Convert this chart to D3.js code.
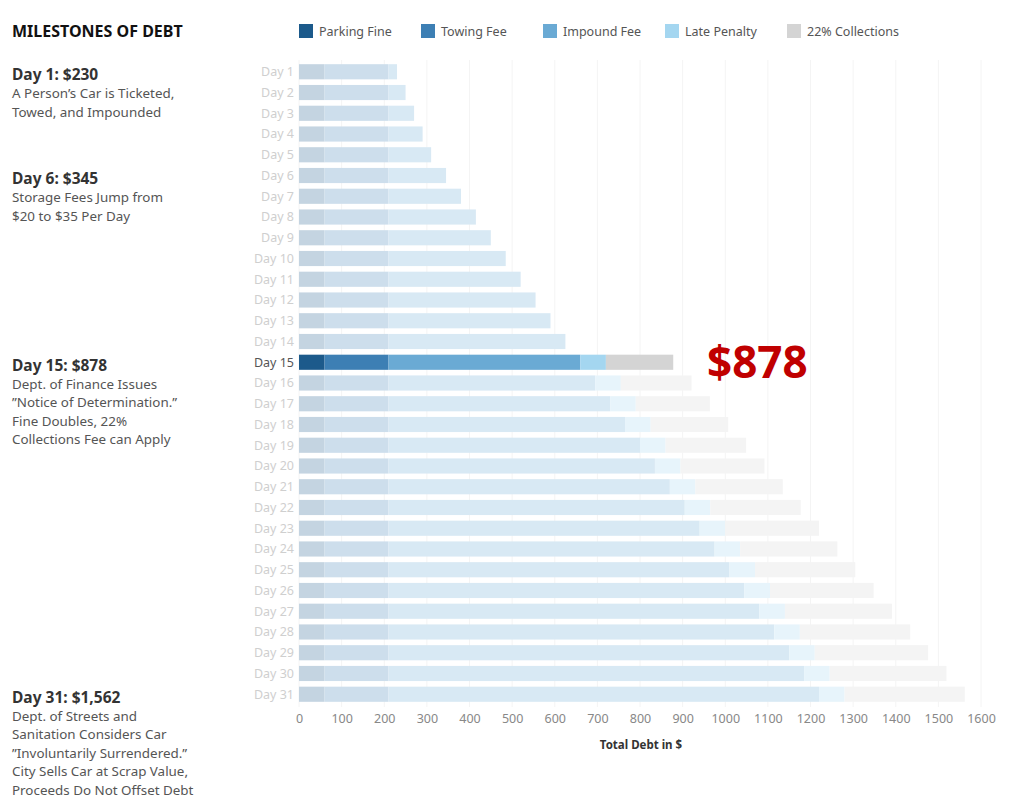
<!DOCTYPE html>
<head>
    <style>
        body { margin: 0; background: #fff; }
        text { font-family: "Noto Sans", sans-serif; }
    </style>
</head>
<body>
    <script src="https://d3js.org/d3.v7.min.js"></script>
    <script>
        const width = 1017;
        const height = 806;

        // values ($)
        const days = d3.range(1, 32).map(d => "Day " + d);
        const series = ["Parking Fine", "Towing Fee", "Impound Fee", "Late Penalty", "22% Collections"];
        const parkingFine = [60,60,60,60,60,60,60,60,60,60,60,60,60,60,60,60,60,60,60,60,60,60,60,60,60,60,60,60,60,60,60];
        const towingFee = [150,150,150,150,150,150,150,150,150,150,150,150,150,150,150,150,150,150,150,150,150,150,150,150,150,150,150,150,150,150,150];
        const impoundFee = [20,40,60,80,100,135,170,205,240,275,310,345,380,415,450,485,520,555,590,625,660,695,730,765,800,835,870,905,940,975,1010];
        const latePenalty = [0,0,0,0,0,0,0,0,0,0,0,0,0,0,60,60,60,60,60,60,60,60,60,60,60,60,60,60,60,60,60];
        const collections = [0,0,0,0,0,0,0,0,0,0,0,0,0,0,158,166,174,182,189,197,205,212,220,228,235,243,251,259,266,274,282];
        const xTicks = [0,100,200,300,400,500,600,700,800,900,1000,1100,1200,1300,1400,1500,1600];
        const highlightDay = "Day 15";
        const bigLabel = "$878";

        const notes = [
            { day: "Day 1", title: "Day 1: $230", lines: ["A Person\u2019s Car is Ticketed,", "Towed, and Impounded"] },
            { day: "Day 6", title: "Day 6: $345", lines: ["Storage Fees Jump from", "$20 to $35 Per Day"] },
            { day: "Day 15", title: "Day 15: $878", lines: ["Dept. of Finance Issues", "\u201DNotice of Determination.\u201D", "Fine Doubles, 22%", "Collections Fee can Apply"] },
            { day: "Day 31", title: "Day 31: $1,562", lines: ["Dept. of Streets and", "Sanitation Considers Car", "\u201DInvoluntarily Surrendered.\u201D", "City Sells Car at Scrap Value,", "Proceeds Do Not Offset Debt"] }
        ];

        const colors = ["#1c5a8b", "#3d7fb4", "#6aaad4", "#a4d6f0", "#d4d4d4"];

        const rows = days.map((d, i) => ({
            day: d,
            "Parking Fine": parkingFine[i],
            "Towing Fee": towingFee[i],
            "Impound Fee": impoundFee[i],
            "Late Penalty": latePenalty[i],
            "22% Collections": collections[i]
        }));

        const svg = d3.select("body").append("svg").attr("width", width).attr("height", height);

        const x = d3.scaleLinear().domain([0, 1600]).range([299, 981]);
        const y = d3.scaleBand().domain(days).range([61.5, 704.5]).paddingInner(0.27).paddingOuter(0.13);
        const color = d3.scaleOrdinal().domain(series).range(colors);
        // faded look of the other days, mixed with white so the grid does not show through
        const faded = k => d3.interpolateRgb("#fff", color(k))(0.26);

        // grid
        svg.append("g").selectAll("line").data(xTicks).join("line")
            .attr("x1", d => x(d)).attr("x2", d => x(d))
            .attr("y1", 60).attr("y2", 707)
            .attr("stroke", "#f4f4f4").attr("stroke-width", 1);

        const stacked = d3.stack().keys(series)(rows);

        svg.append("g").selectAll("g").data(stacked).join("g")
            .each(function(s) {
                d3.select(this).selectAll("rect").data(s).join("rect")
                    .attr("x", d => x(d[0]))
                    .attr("y", d => y(d.data.day))
                    .attr("width", d => Math.max(0, x(d[1]) - x(d[0])))
                    .attr("height", y.bandwidth())
                    .attr("fill", d => d.data.day == highlightDay ? color(s.key) : faded(s.key));
            });

        // day labels
        svg.append("g").selectAll("text").data(days).join("text")
            .attr("x", 294)
            .attr("y", d => y(d) + y.bandwidth() / 2)
            .attr("dy", "0.35em")
            .attr("text-anchor", "end")
            .attr("font-size", 12.5)
            .attr("fill", d => d == highlightDay ? "#555" : "#cfcfcf")
            .text(d => d);

        // x axis
        const xAxis = d3.axisBottom(x).tickValues(xTicks).tickFormat(d3.format("d")).tickSize(0).tickPadding(0);
        const ax = svg.append("g").attr("transform", "translate(0,714)").call(xAxis);
        ax.select(".domain").remove();
        ax.selectAll("text")
            .attr("font-size", 12.5)
            .attr("font-family", "Noto Sans, sans-serif")
            .attr("fill", "#888")
            .attr("dy", "0.71em");

        svg.append("text")
            .attr("x", x(800) + 1).attr("y", 749)
            .attr("text-anchor", "middle")
            .attr("font-size", 11.5).attr("font-weight", "bold")
            .attr("fill", "#333")
            .text("Total Debt in $");

        // big label
        svg.append("text")
            .attr("x", 707).attr("y", y(highlightDay) + y.bandwidth() / 2)
            .attr("dy", "0.36em")
            .attr("font-size", 44).attr("font-weight", "bold")
            .attr("fill", "#c00000")
            .text(bigLabel);

        // title
        svg.append("text")
            .attr("x", 12).attr("y", 37)
            .attr("font-size", 16).attr("font-weight", "bold").attr("fill", "#111")
            .text("MILESTONES OF DEBT");

        // legend
        const lg = svg.append("g").selectAll("g").data(series).join("g")
            .attr("transform", (d, i) => `translate(${299 + i * 122},24)`);
        lg.append("rect").attr("width", 14).attr("height", 14).attr("fill", d => color(d));
        lg.append("text").attr("x", 20).attr("y", 8).attr("dy", "0.35em")
            .attr("font-size", 12.5).attr("fill", "#555").text(d => d);

        // milestone notes
        const ng = svg.append("g").selectAll("g").data(notes).join("g")
            .attr("transform", d => `translate(12,${y(d.day) + y.bandwidth() / 2 + 3})`);
        ng.append("text").attr("dy", "0.35em")
            .attr("font-size", 15.5).attr("font-weight", "bold").attr("fill", "#333")
            .text(d => d.title);
        ng.each(function(d) {
            d3.select(this).selectAll("text.l").data(d.lines).join("text")
                .attr("class", "l")
                .attr("y", (l, i) => 19 + i * 18.4)
                .attr("dy", "0.35em")
                .attr("font-size", 13.4).attr("fill", "#555")
                .text(l => l);
        });
    </script>
</body>
</html>
